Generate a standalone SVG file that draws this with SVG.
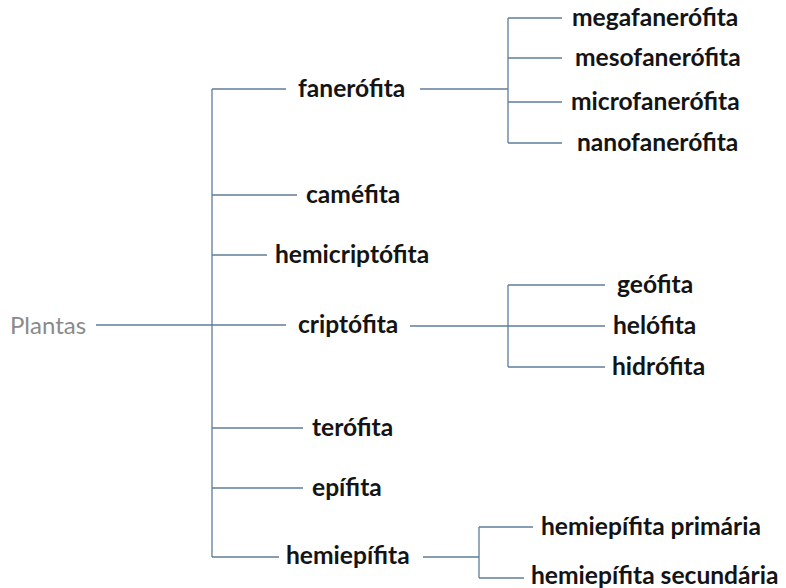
<svg xmlns="http://www.w3.org/2000/svg" width="786" height="588" viewBox="0 0 786 588">
<style>
.l{stroke:#5f7d99;stroke-width:1.3;fill:none}
.t{font-family:Lato,"Open Sans","Liberation Sans",sans-serif;font-weight:bold;font-size:24.6px;fill:#141414}
.r{font-family:Lato,"Open Sans","Liberation Sans",sans-serif;font-size:24px;fill:#8a8a8a}
</style>
<rect width="786" height="588" fill="#fff"/>
<g id="connectors">
<path class="l" d="M96 325H212M212 89V557M212 89H286M212 195H297M212 255H267M212 325H286M212 428H303M212 488H303M212 557H279"/>
<path class="l" d="M420 89H508M508 18V143M508 18H562M508 58H562M508 102H562M508 143H562"/>
<path class="l" d="M410 326H508M508 285V367M508 285H605M508 326H605M508 367H605"/>
<path class="l" d="M423 557H479M479 527V578M479 527H533M479 578H524"/>
</g>
<g id="plantas"><text class="r" x="10" y="334">Plantas</text></g>
<g id="fanerofita"><text class="t" x="298" y="97">fanerófita</text></g>
<g id="megafanerofita"><text class="t" x="572" y="26">megafanerófita</text></g>
<g id="mesofanerofita"><text class="t" x="575" y="66">mesofanerófita</text></g>
<g id="microfanerofita"><text class="t" x="571" y="110">microfanerófita</text></g>
<g id="nanofanerofita"><text class="t" x="577" y="151">nanofanerófita</text></g>
<g id="camefita"><text class="t" x="306" y="203">caméfita</text></g>
<g id="hemicriptofita"><text class="t" x="275" y="263">hemicriptófita</text></g>
<g id="criptofita"><text class="t" x="298" y="333">criptófita</text></g>
<g id="geofita"><text class="t" x="617" y="293">geófita</text></g>
<g id="helofita"><text class="t" x="613" y="334">helófita</text></g>
<g id="hidrofita"><text class="t" x="612" y="375">hidrófita</text></g>
<g id="terofita"><text class="t" x="312" y="436">terófita</text></g>
<g id="epifita"><text class="t" x="312" y="496">epífita</text></g>
<g id="hemiepifita"><text class="t" x="286" y="564">hemiepífita</text></g>
<g id="hemiepifita-primaria"><text class="t" x="541" y="535">hemiepífita primária</text></g>
<g id="hemiepifita-secundaria"><text class="t" x="531" y="584">hemiepífita secundária</text></g>
</svg>
